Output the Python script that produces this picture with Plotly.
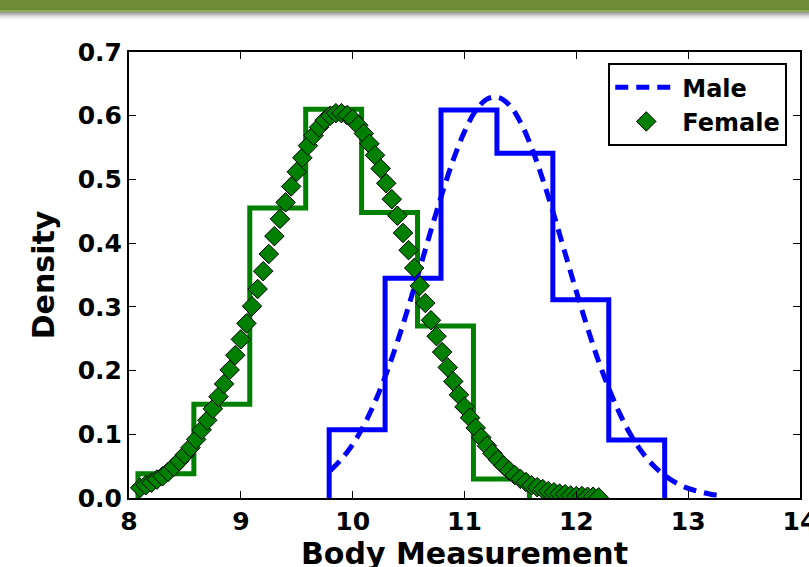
import plotly.graph_objects as go

# ---- data ----
female_edges = [8.08, 8.58, 9.08, 9.58, 10.08, 10.58, 11.08, 11.58]
female_hist = [0.038, 0.147, 0.455, 0.610, 0.448, 0.270, 0.030]

male_edges = [9.79, 10.29, 10.79, 11.29, 11.79, 12.29, 12.79]
male_hist = [0.107, 0.345, 0.609, 0.541, 0.311, 0.091]

female_x = [8.10, 8.15, 8.20, 8.25, 8.30, 8.35, 8.40, 8.45, 8.50, 8.55,
            8.60, 8.65, 8.70, 8.75, 8.80, 8.85, 8.90, 8.95, 9.00, 9.05,
            9.10, 9.15, 9.20, 9.25, 9.30, 9.35, 9.40, 9.45, 9.50, 9.55,
            9.60, 9.65, 9.70, 9.75, 9.80, 9.85, 9.90, 9.95, 10.00, 10.05,
            10.10, 10.15, 10.20, 10.25, 10.30, 10.35, 10.40, 10.45, 10.50, 10.55,
            10.60, 10.65, 10.70, 10.75, 10.80, 10.85, 10.90, 10.95, 11.00, 11.05,
            11.10, 11.15, 11.20, 11.25, 11.30, 11.35, 11.40, 11.45, 11.50, 11.55,
            11.60, 11.65, 11.70, 11.75, 11.80, 11.85, 11.90, 11.95, 12.00, 12.05,
            12.10, 12.15, 12.20]
female_density = [0.016, 0.020, 0.024, 0.029, 0.034, 0.041, 0.049, 0.058, 0.068, 0.079,
                  0.092, 0.107, 0.122, 0.140, 0.159, 0.179, 0.201, 0.224, 0.249, 0.274,
                  0.301, 0.328, 0.356, 0.383, 0.411, 0.438, 0.464, 0.489, 0.512, 0.534,
                  0.553, 0.569, 0.582, 0.593, 0.600, 0.604, 0.604, 0.601, 0.595, 0.585,
                  0.572, 0.556, 0.538, 0.517, 0.494, 0.469, 0.443, 0.416, 0.389, 0.361,
                  0.333, 0.306, 0.279, 0.254, 0.229, 0.205, 0.183, 0.162, 0.143, 0.126,
                  0.110, 0.095, 0.082, 0.070, 0.060, 0.051, 0.043, 0.036, 0.030, 0.025,
                  0.020, 0.017, 0.014, 0.011, 0.009, 0.007, 0.006, 0.004, 0.003, 0.003,
                  0.002, 0.002, 0.001]

male_x = [9.8, 9.9, 10.0, 10.1, 10.2, 10.3, 10.4, 10.5, 10.6, 10.7, 10.8, 10.9,
          11.0, 11.1, 11.2, 11.3, 11.4, 11.5, 11.6, 11.7, 11.8, 11.9, 12.0, 12.1,
          12.2, 12.3, 12.4, 12.5, 12.6, 12.7, 12.8, 12.9, 13.0, 13.1, 13.2, 13.3]
male_density = [0.043, 0.061, 0.084, 0.114, 0.151, 0.195, 0.245, 0.301, 0.360, 0.420,
                0.478, 0.531, 0.575, 0.608, 0.626, 0.629, 0.617, 0.590, 0.550, 0.500,
                0.444, 0.384, 0.324, 0.267, 0.214, 0.168, 0.128, 0.095, 0.069, 0.049,
                0.034, 0.023, 0.015, 0.010, 0.006, 0.004]

x_ticks = [8, 9, 10, 11, 12, 13, 14]
y_ticks = [0.0, 0.1, 0.2, 0.3, 0.4, 0.5, 0.6, 0.7]


def step_outline(edges, heights):
    xs = [edges[0], edges[0]] + list(edges[1:])
    ys = [0] + list(heights) + [0]
    return xs, ys


GREEN = "#008000"
BLUE = "#0000ff"
FONT = "DejaVu Sans"

fig = go.Figure()

fx, fy = step_outline(female_edges, female_hist)
fig.add_trace(go.Scatter(x=fx, y=fy, mode="lines", line=dict(color=GREEN, width=5, shape="hv"),
                         showlegend=False, hoverinfo="skip"))
mx, my = step_outline(male_edges, male_hist)
fig.add_trace(go.Scatter(x=mx, y=my, mode="lines", line=dict(color=BLUE, width=5, shape="hv"),
                         showlegend=False, hoverinfo="skip"))

fig.add_trace(go.Scatter(x=male_x, y=male_density, mode="lines", name="Male",
                         line=dict(color=BLUE, width=5, dash="13px,8px", shape="spline")))
fig.add_trace(go.Scatter(x=female_x, y=female_density, mode="markers", name="Female",
                         marker=dict(symbol="diamond", size=15, color=GREEN,
                                     line=dict(color="black", width=1))))

# plot area: left 129, right 800, top 52, bottom 498 (px)
H = 446.0
def py(px):
    return (498 - px) / H

shapes = [
    dict(type="rect", xref="paper", yref="paper", x0=-0.3, x1=1.1, y0=py(10), y1=py(-2),
         fillcolor="#6f8b35", line=dict(width=0), layer="above"),
    dict(type="rect", xref="paper", yref="paper", x0=-0.3, x1=1.1, y0=py(12), y1=py(10),
         fillcolor="#8fae52", line=dict(width=0), layer="above"),
]
greys = ["#9a9a9a", "#acacac", "#bebebe", "#cfcfcf", "#dedede", "#eaeaea", "#f3f3f3", "#fafafa"]
for i, g in enumerate(greys):
    shapes.append(dict(type="rect", xref="paper", yref="paper", x0=-0.3, x1=1.1,
                       y0=py(13 + i), y1=py(12 + i), fillcolor=g, line=dict(width=0), layer="above"))

fig.update_layout(
    width=809, height=567,
    margin=dict(l=129, r=9, t=52, b=69, autoexpand=False),
    paper_bgcolor="white", plot_bgcolor="white",
    font=dict(family=FONT, color="black", size=20, weight="bold"),
    showlegend=True,
    legend=dict(x=0.981, y=0.975, xanchor="right", yanchor="top",
                bgcolor="white", bordercolor="black", borderwidth=2,
                font=dict(family=FONT, size=24, weight="bold", color="black"),
                itemwidth=62),
    shapes=shapes,
    annotations=[dict(text="Body Measurement", xref="paper", yref="paper", x=0.5, y=py(553),
                      xanchor="center", yanchor="middle", showarrow=False,
                      font=dict(family=FONT, size=30, weight="bold", color="black"))],
)

fig.update_xaxes(range=[8, 14], tickvals=x_ticks, ticktext=[str(t) for t in x_ticks],
                 automargin=False, ticklabeloverflow="allow",
                 showgrid=False, zeroline=False, showline=True, linecolor="black", linewidth=2,
                 mirror="allticks", ticks="inside", ticklen=7, tickwidth=1, tickcolor="black",
                 tickfont=dict(family=FONT, size=25, weight="bold"))
fig.update_yaxes(range=[0, 0.7], tickvals=y_ticks, ticktext=[f"{t:.1f}" for t in y_ticks],
                 automargin=False, ticklabeloverflow="allow",
                 showgrid=False, zeroline=False, showline=True, linecolor="black", linewidth=2,
                 mirror="allticks", ticks="inside", ticklen=7, tickwidth=1, tickcolor="black",
                 tickfont=dict(family=FONT, size=25, weight="bold"),
                 title=dict(text="Density", font=dict(family=FONT, size=30, weight="bold"),
                            standoff=14))

fig.write_html("out.html", config={"displayModeBar": False},
               post_script="document.body.style.margin='0px';")
